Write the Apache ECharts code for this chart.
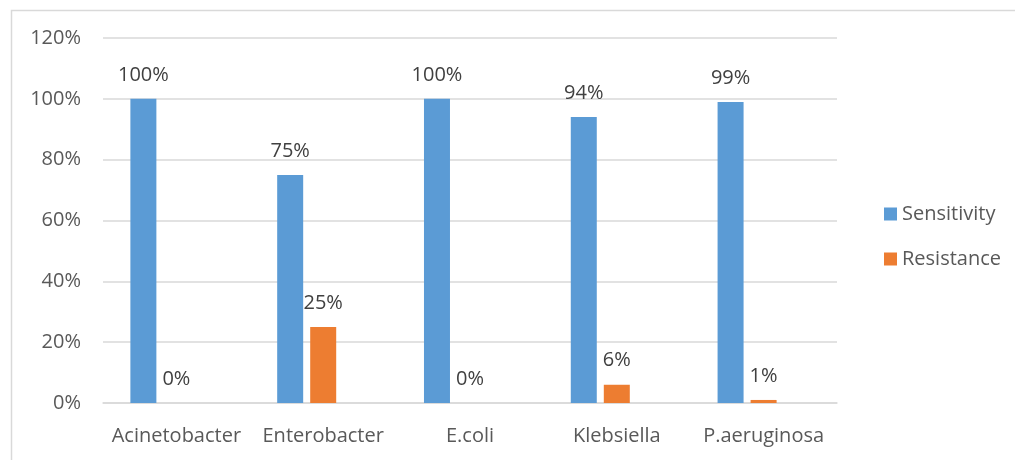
<!DOCTYPE html>
<html>
<head>
<meta charset="utf-8">
<script src="https://cdn.jsdelivr.net/npm/echarts@6/dist/echarts.min.js"></script>
<style>html,body{margin:0;padding:0;background:#fff;}#c{width:1015px;height:460px;}</style>
</head>
<body>
<div id="c"></div>
<script>
var categories = ['Acinetobacter', 'Enterobacter', 'E.coli', 'Klebsiella', 'P.aeruginosa'];
var sensitivity = [1.00, 0.75, 1.00, 0.94, 0.99];
var resistance = [0.00, 0.25, 0.00, 0.06, 0.01];
var emptySeries = [null, null, null, null, null];
var seriesNames = ['Sensitivity', 'Resistance'];
var yTicks = { min: 0, max: 1.2, interval: 0.2 };

var FONT = '"Open Sans", Lato, sans-serif';
function pct(v) { return Math.round(v * 100) + '%'; }

var chart = echarts.init(document.getElementById('c'), null, { renderer: 'canvas' });
var labelCfg = {
  show: true, position: 'top', distance: 14,
  fontFamily: FONT, fontSize: 20, color: '#404040',
  formatter: function (p) { return pct(p.value); }
};
chart.setOption({
  animation: false,
  backgroundColor: '#ffffff',
  graphic: [{
    type: 'rect', left: 9, top: 8, silent: true,
    shape: { width: 1100, height: 500 },
    style: { fill: 'none', stroke: '#d9d9d9', lineWidth: 1.5 }
  }],
  grid: { left: 103, right: 178, top: 38, bottom: 57, containLabel: false },
  legend: {
    data: seriesNames, orient: 'vertical', left: 879, top: 199,
    itemWidth: 13, itemHeight: 13, itemGap: 25, icon: 'rect',
    textStyle: { fontFamily: FONT, fontSize: 20, color: '#595959' }
  },
  xAxis: {
    type: 'category', data: categories,
    axisLine: { lineStyle: { color: '#d9d9d9', width: 1.5 } },
    axisTick: { show: false },
    axisLabel: { interval: 0, hideOverlap: false, fontFamily: FONT, fontSize: 20, color: '#595959', margin: 23 }
  },
  yAxis: {
    type: 'value', min: yTicks.min, max: yTicks.max, interval: yTicks.interval,
    axisLine: { show: false }, axisTick: { show: false },
    splitLine: { lineStyle: { color: '#d9d9d9', width: 1.5 } },
    axisLabel: { fontFamily: FONT, fontSize: 20, color: '#595959', margin: 22, formatter: function (v) { return pct(v); } }
  },
  series: [
    { name: seriesNames[0], type: 'bar', data: sensitivity, barWidth: 26, barGap: '27%', itemStyle: { color: '#5B9BD5' }, label: labelCfg },
    { name: seriesNames[1], type: 'bar', data: resistance, barWidth: 26, barGap: '27%', itemStyle: { color: '#ED7D31' }, label: labelCfg },
    { name: '', type: 'bar', data: emptySeries, barWidth: 26, barGap: '27%', itemStyle: { color: '#A5A5A5' } }
  ]
});
</script>
</body>
</html>
